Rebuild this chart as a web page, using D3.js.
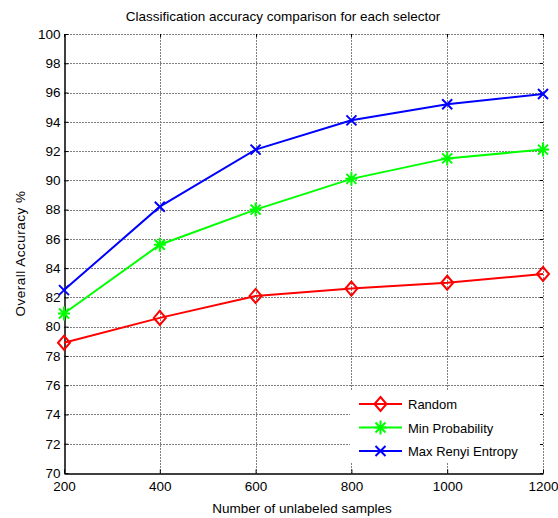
<!DOCTYPE html>
<html>
<head>
<meta charset="utf-8">
<script src="https://cdn.jsdelivr.net/npm/d3@7"></script>
<style>
  body { margin: 0; background: #fff; }
  text { font-family: "Liberation Sans", Arial, sans-serif; fill: #000; }
</style>
</head>
<body>
<div id="chart"></div>
<script>
var samples = [200, 400, 600, 800, 1000, 1200];
var randomAcc = [78.9, 80.6, 82.1, 82.6, 83.0, 83.6];
var minProbAcc = [80.9, 85.6, 88.0, 90.1, 91.5, 92.1];
var maxRenyiAcc = [82.5, 88.2, 92.1, 94.1, 95.2, 95.9];
var yTicks = [70, 72, 74, 76, 78, 80, 82, 84, 86, 88, 90, 92, 94, 96, 98, 100];
var seriesNames = ["Random", "Min Probability", "Max Renyi Entropy"];

var width = 558, height = 518;
var mLeft = 64, mRight = 543, mTop = 34, mBottom = 473;

var series = [
  { name: seriesNames[0], values: randomAcc, color: "#ff0000", marker: "diamond" },
  { name: seriesNames[1], values: minProbAcc, color: "#00ff00", marker: "star" },
  { name: seriesNames[2], values: maxRenyiAcc, color: "#0000ff", marker: "x" }
];

var x = d3.scaleLinear().domain([200, 1200]).range([mLeft, mRight]);
var y = d3.scaleLinear().domain([70, 100]).range([mBottom, mTop]);

var svg = d3.select("#chart").append("svg")
  .attr("width", width).attr("height", height);

/* grid */
var grid = svg.append("g").attr("stroke", "#555").attr("stroke-width", 1)
  .attr("stroke-dasharray", "2,1").attr("opacity", 0.75);
grid.selectAll(".hg").data(yTicks.slice(1)).enter().append("line")
  .attr("x1", mLeft).attr("x2", mRight)
  .attr("y1", d => Math.round(y(d)) + 0.5).attr("y2", d => Math.round(y(d)) + 0.5);
grid.selectAll(".vg").data(samples.slice(1)).enter().append("line")
  .attr("y1", mTop).attr("y2", mBottom)
  .attr("x1", d => Math.round(x(d)) + 0.5).attr("x2", d => Math.round(x(d)) + 0.5);

/* axes */
var yAxis = d3.axisLeft(y).tickValues(yTicks).tickFormat(d3.format("d"))
  .tickSizeInner(-4).tickSizeOuter(0).tickPadding(6);
var xAxis = d3.axisBottom(x).tickValues(samples).tickFormat(d3.format("d"))
  .tickSizeInner(-4).tickSizeOuter(0).tickPadding(8);

var gy = svg.append("g").attr("transform", `translate(${mLeft + 0.5},0)`).call(yAxis);
var gx = svg.append("g").attr("transform", `translate(0,${mBottom + 0.5})`).call(xAxis);
[gx, gy].forEach(function (g) {
  g.selectAll("text").style("font-size", "13.5px").style("font-family", "Liberation Sans, Arial, sans-serif");
  g.select(".domain").attr("stroke", "#000").attr("stroke-width", 1.5);
  g.selectAll(".tick line").attr("stroke", "#000");
});
gy.selectAll("text").attr("dx", "2");

/* small ticks on top and right */
svg.append("g").selectAll("line").data(samples).enter().append("line")
  .attr("x1", d => Math.round(x(d)) + 0.5).attr("x2", d => Math.round(x(d)) + 0.5)
  .attr("y1", mTop).attr("y2", mTop + 3).attr("stroke", "#000");
svg.append("g").selectAll("line").data(yTicks).enter().append("line")
  .attr("y1", d => Math.round(y(d)) + 0.5).attr("y2", d => Math.round(y(d)) + 0.5)
  .attr("x1", mRight - 3).attr("x2", mRight).attr("stroke", "#000");

/* markers */
function drawMarker(g, type, cx, cy, color) {
  if (type === "diamond") {
    g.append("path")
      .attr("d", `M${cx},${cy - 7}L${cx + 6},${cy}L${cx},${cy + 7}L${cx - 6},${cy}Z`)
      .attr("fill", "none").attr("stroke", color).attr("stroke-width", 2);
  } else if (type === "x") {
    g.append("path")
      .attr("d", `M${cx - 5},${cy - 5}L${cx + 5},${cy + 5}M${cx - 5},${cy + 5}L${cx + 5},${cy - 5}`)
      .attr("stroke", color).attr("stroke-width", 2);
  } else {
    g.append("path")
      .attr("d", `M${cx - 5},${cy - 5}L${cx + 5},${cy + 5}M${cx - 5},${cy + 5}L${cx + 5},${cy - 5}` +
        `M${cx},${cy - 7}L${cx},${cy + 7}M${cx - 6},${cy}L${cx + 6},${cy}`)
      .attr("stroke", color).attr("stroke-width", 2);
  }
}

var line = d3.line().x((d, i) => x(samples[i])).y(d => y(d));

series.forEach(function (s) {
  var g = svg.append("g");
  g.append("path").attr("d", line(s.values))
    .attr("fill", "none").attr("stroke", s.color).attr("stroke-width", 2);
  s.values.forEach(function (v, i) {
    drawMarker(g, s.marker, x(samples[i]), y(v), s.color);
  });
});

/* legend */
var lg = svg.append("g");
lg.append("rect").attr("x", 350).attr("y", 390).attr("width", 190).attr("height", 72).attr("fill", "#fff");
series.forEach(function (s, i) {
  var ly = 404 + i * 23.5;
  lg.append("line").attr("x1", 359).attr("x2", 402).attr("y1", ly).attr("y2", ly)
    .attr("stroke", s.color).attr("stroke-width", 2);
  drawMarker(lg, s.marker, 380.5, ly, s.color);
  lg.append("text").attr("x", 408).attr("y", ly + 5).style("font-size", "13px").text(s.name);
});

/* titles */
svg.append("text").attr("x", 283).attr("y", 21).attr("text-anchor", "middle")
  .style("font-size", "13.5px").text("Classification accuracy comparison for each selector");
svg.append("text").attr("x", 302).attr("y", 513).attr("text-anchor", "middle")
  .style("font-size", "13.5px").text("Number of unlabeled samples");
svg.append("text").attr("transform", `translate(25,${(mTop + mBottom) / 2}) rotate(-90)`)
  .attr("text-anchor", "middle").style("font-size", "13.5px").style("letter-spacing", "0.5px")
  .text("Overall Accuracy %");
</script>
</body>
</html>
